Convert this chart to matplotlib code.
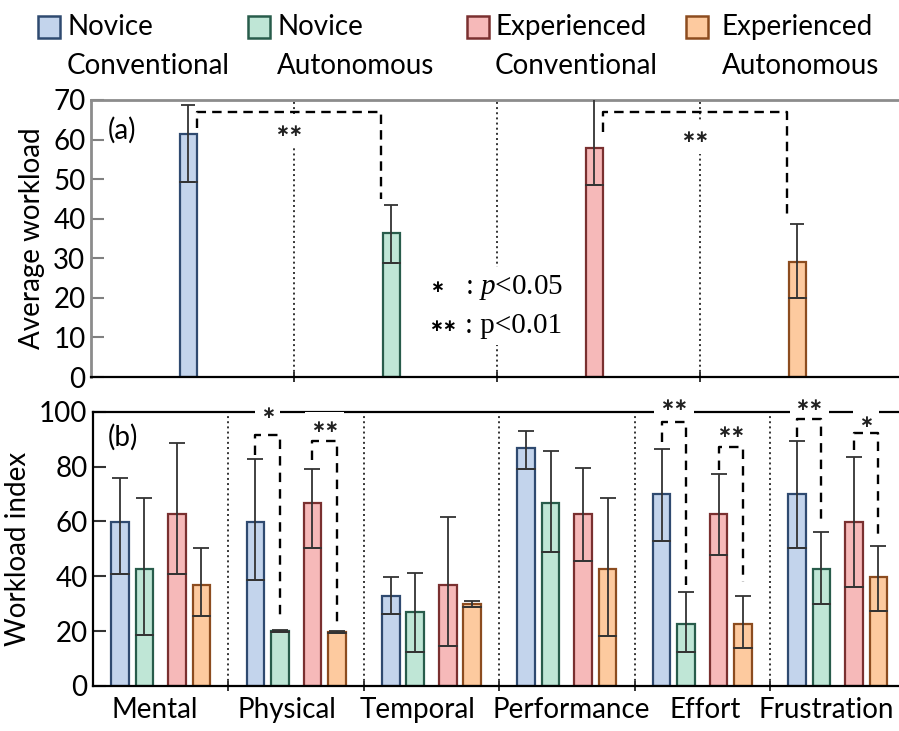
'''
NASA-TLX workload: average workload and sub-scale workload index per group.
'''

import numpy as np
import matplotlib as mpl
from matplotlib import pyplot as plt
from matplotlib.patches import Rectangle
from matplotlib.transforms import ScaledTranslation


mpl.rcParams['font.family'] = ['Lato', 'DejaVu Sans']
mpl.rcParams['mathtext.fontset'] = 'custom'
mpl.rcParams['mathtext.rm'] = 'Liberation Serif'
mpl.rcParams['mathtext.it'] = 'Liberation Serif:italic'


# ---- data ----
group_lines = [('Novice', 'Conventional'), ('Novice', 'Autonomous'),
               ('Experienced', 'Conventional'), ('Experienced', 'Autonomous')]

# (a) average workload: mean, lower and upper whisker ends
avg_mean  = [61.5, 36.3, 57.8, 29.1]
avg_lower = [49.2, 28.7, 48.5, 19.9]
avg_upper = [68.7, 43.4, 72.0, 38.6]

# (b) workload index per sub-scale
dims      = ['Mental', 'Physical', 'Temporal', 'Performance', 'Effort', 'Frustration']
nc_mean   = [59.9, 59.9, 32.9, 86.9, 69.9, 69.9]
nc_lower  = [40.7, 38.5, 26.1, 79.0, 53.0, 50.4]
nc_upper  = [75.9, 82.7, 39.9, 93.0, 86.3, 89.4]
na_mean   = [42.8, 20.0, 26.9, 66.8, 22.7, 42.8]
na_lower  = [18.5, 19.6, 12.5, 49.0, 12.3, 29.8]
na_upper  = [68.4, 20.4, 41.3, 85.7, 34.1, 56.0]
ec_mean   = [62.7, 66.8, 36.8, 62.7, 62.7, 59.9]
ec_lower  = [40.8, 50.4, 14.6, 45.7, 47.8, 36.2]
ec_upper  = [88.5, 79.0, 61.5, 79.3, 77.2, 83.4]
ea_mean   = [36.8, 19.8, 29.9, 42.6, 22.7, 39.9]
ea_lower  = [25.5, 19.4, 28.9, 18.2, 14.0, 27.3]
ea_upper  = [50.2, 20.2, 31.1, 68.4, 32.8, 51.2]

# significance in (a): left bar, right bar, mark, left end, top, right end, mark height
sig_a = [(0, 1, '∗∗', 62.8, 67.0, 45.1, 62.2),
         (2, 3, '∗∗', 62.0, 67.0, 40.9, 60.6)]
# significance in (b): sub-scale, pair (0 novice, 1 experienced), mark, left end, top, right end, mark height
sig_b = [(1, 0, '∗',  84.2, 91.5, 24.7, 99.4),
         (1, 1, '∗∗', 82.4, 89.3, 22.2, 94.5),
         (4, 0, '∗∗', 89.0, 96.4, 36.8, 102.4),
         (4, 1, '∗∗', 78.7, 87.2, 38.0, 92.7),
         (5, 0, '∗∗', 90.9, 97.2, 60.5, 102.4),
         (5, 1, '∗',  86.0, 92.3, 55.0, 96.4)]

fills = ['#c3d4ec', '#bfe6d6', '#f6b9b9', '#fdca9f']
edges = ['#2f4a70', '#285c4b', '#7a3030', '#8c4c1f']
ecol  = '#333333'
star_font = ['DejaVu Sans']
fs = 20


W, H = 899, 731
plt.close('all')
fig = plt.figure(figsize=(W/100, H/100), dpi=100)
axA = fig.add_axes([91/W, 1-377/H, 808/W, 277/H])
axB = fig.add_axes([93/W, 1-686/H, 806/W, 274.3/H])


# ---- panel (a) ----
xa = np.arange(4) + 0.48
for i in range(4):
	axA.bar(xa[i], avg_mean[i], width=0.08, color=fills[i], edgecolor=edges[i], lw=1.6, zorder=2)
m = np.array(avg_mean)
axA.errorbar(xa, m, yerr=[m-np.array(avg_lower), np.array(avg_upper)-m], fmt='none',
             ecolor=ecol, elinewidth=1.3, capsize=5, capthick=1.3, zorder=3, clip_on=True)
for i in range(4):
	axA.plot([xa[i]-0.04, xa[i]+0.04], [avg_lower[i]]*2, color=ecol, lw=1.3, zorder=3)

for x in [1, 2, 3]:
	axA.axvline(x, color='#333333', ls=':', lw=1.4, zorder=1)

for (l, r, mark, yl, yt, yr, ym) in sig_a:
	x0, x1 = xa[l] + 0.043, xa[r] - 0.05
	axA.plot([x0, x0, x1, x1], [yl, yt, yt, yr], color='k', lw=1.7, ls=(0, (4, 2.6)), zorder=6)
	axA.text((x0+x1)/2 + 0.0, ym, mark, ha='center', va='center', fontsize=12, family=star_font,
	         fontweight='bold', color='#222222', zorder=5,
	         bbox=dict(boxstyle='square,pad=0.45', fc='white', ec='none'))

axA.text(1.704, 22.7, '∗', ha='center', va='center', fontsize=12, family=star_font, fontweight='bold', zorder=5)
axA.text(1.734, 12.9, '∗∗', ha='center', va='center', fontsize=12, family=star_font, fontweight='bold', zorder=5)
for y, s in [(22.7, ': $p$<0.05'), (12.9, ': p<0.01')]:
	axA.text(1.84, y, s, ha='left', va='center', fontsize=21, family='Liberation Serif', zorder=5,
	         bbox=dict(boxstyle='square,pad=0.2', fc='white', ec='none'))

axA.text(0.084, 62.4, '(a)', ha='left', va='center', fontsize=fs)

axA.set_xlim(0, 808/203)
axA.set_ylim(0, 70)
axA.set_yticks(range(0, 71, 10))
axA.set_xticks([1, 2, 3])
axA.set_xticklabels([])
axA.tick_params(axis='y', direction='in', length=9, width=1.5, color='#808080', labelsize=fs, pad=4)
axA.tick_params(axis='x', direction='inout', length=7, width=1.4, color='#333333')
axA.spines['right'].set_visible(False)
for s in ['top', 'left']:
	axA.spines[s].set_color('#8c8c8c')
	axA.spines[s].set_linewidth(2)
axA.spines['bottom'].set_linewidth(1.6)
axA.set_ylabel('Average workload', fontsize=fs, labelpad=6)


# ---- panel (b) ----
xb = np.arange(len(dims))
offsets = [-0.3, -0.12, 0.12, 0.3]
series = [(nc_mean, nc_lower, nc_upper), (na_mean, na_lower, na_upper),
          (ec_mean, ec_lower, ec_upper), (ea_mean, ea_lower, ea_upper)]
bw = 0.13
for k, (mn, lo, hi) in enumerate(series):
	x = xb + offsets[k]
	mn, lo, hi = np.array(mn), np.array(lo), np.array(hi)
	axB.bar(x, mn, width=bw, color=fills[k], edgecolor=edges[k], lw=1.6, zorder=2)
	axB.errorbar(x, mn, yerr=[mn-lo, hi-mn], fmt='none', ecolor=ecol, elinewidth=1.3,
	             capsize=5.5, capthick=1.3, zorder=3)
	for xi, li in zip(x, lo):
		axB.plot([xi-bw/2, xi+bw/2], [li, li], color=ecol, lw=1.3, zorder=3)

for x in np.arange(0.5, len(dims)-1, 1):
	axB.axvline(x, color='#333333', ls=':', lw=1.4, zorder=1)

for (g, p, mark, yl, yt, yr, ym) in sig_b:
	x0, x1 = g + offsets[2*p], g + offsets[2*p+1]
	axB.plot([x0, x0, x1, x1], [yl, yt, yt, yr], color='k', lw=1.7, ls=(0, (4, 3)), zorder=6)
	axB.text((x0+x1)/2, ym, mark, ha='center', va='center', fontsize=12, family=star_font,
	         fontweight='bold', color='#222222', zorder=5, clip_on=False,
	         bbox=dict(boxstyle='square,pad=0.35', fc='white', ec='none'))

axB.text(-0.389, 90.8, '(b)', ha='left', va='center', fontsize=fs)

axB.set_xlim(-0.5, -0.5 + 806/135.4)
axB.set_ylim(0, 100)
axB.set_yticks(range(0, 101, 20))
axB.set_xticks(xb)
axB.set_xticklabels(dims)
axB.set_xticks(np.arange(0.5, len(dims)-1, 1), minor=True)
axB.tick_params(axis='y', direction='in', length=9, width=1.5, color='#333333', labelsize=fs, pad=4)
axB.tick_params(axis='x', which='major', length=0, labelsize=fs, pad=8)
axB.tick_params(axis='x', which='minor', direction='inout', length=7, width=1.4, color='#333333')
axB.spines['right'].set_visible(False)
for s in ['top', 'left', 'bottom']:
	axB.spines[s].set_linewidth(1.6)
axB.set_ylabel('Workload index', fontsize=fs, labelpad=6)

# nudge category labels horizontally (pixels) as in the original layout
label_shift = [-6, -9, -14, 4, 3, -11]
for lab, dx in zip(axB.get_xticklabels(), label_shift):
	lab.set_transform(lab.get_transform() + ScaledTranslation(dx/100, 0, fig.dpi_scale_trans))


# ---- legend ----
leg_x = [38, 248, 467, 686]
leg_tx = [67, 277, 495, 722]
for k, (l1, l2) in enumerate(group_lines):
	fig.add_artist(Rectangle((leg_x[k]/W, 1-38/H), 22/W, 22/H, transform=fig.transFigure,
	                         fc=fills[k], ec=edges[k], lw=1.8))
	fig.text(leg_tx[k]/W, 1-27/H, l1, ha='left', va='center', fontsize=fs)
	fig.text(leg_tx[k]/W, 1-66/H, l2, ha='left', va='center', fontsize=fs)


plt.savefig('out.png', dpi=100)
